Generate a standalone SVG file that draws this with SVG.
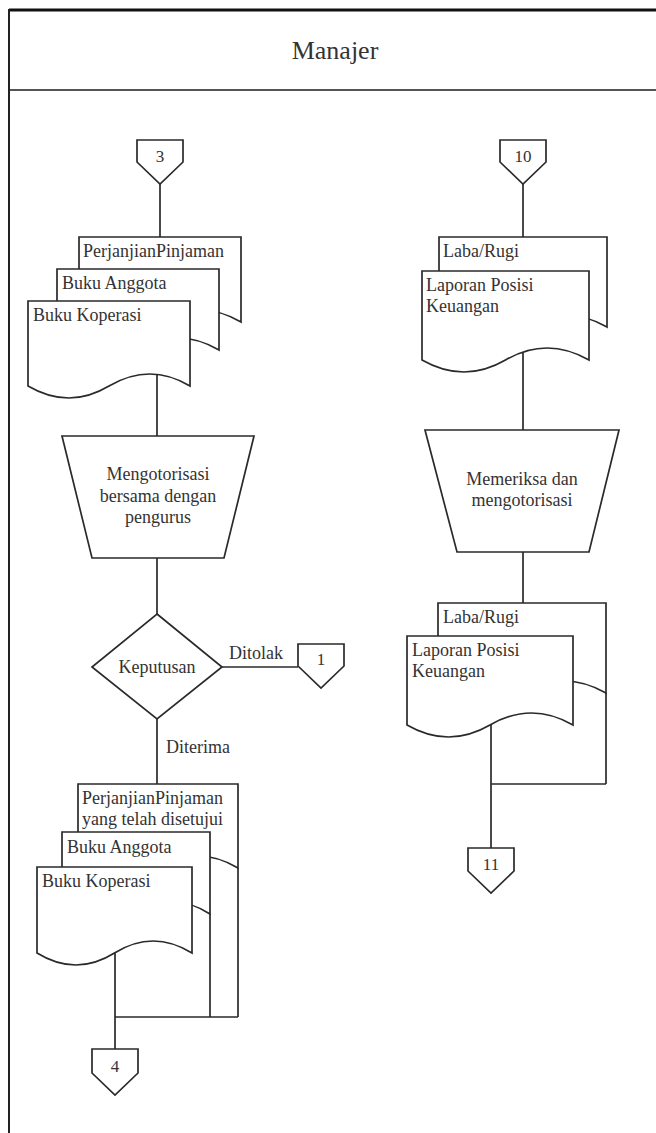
<svg xmlns="http://www.w3.org/2000/svg" width="656" height="1133" viewBox="0 0 656 1133" font-family="'Liberation Serif', 'DejaVu Serif', serif">
<style>
.s{fill:#fff;stroke:#2a2a2a;stroke-width:1.7;stroke-linejoin:miter}
.l{fill:none;stroke:#2a2a2a;stroke-width:1.7}
text{font-family:'Liberation Serif','DejaVu Serif',serif;font-size:18px;fill:#333}
.c{text-anchor:middle}
.n{font-size:17px}
</style>
<rect width="656" height="1133" fill="#fff"/>
<g id="frame">
<line x1="9" y1="10" x2="656" y2="10" stroke="#111" stroke-width="3"/>
<line x1="9" y1="90" x2="656" y2="90" stroke="#555" stroke-width="2"/>
<line x1="9" y1="9" x2="9" y2="1133" stroke="#222" stroke-width="2"/>
<text class="c" x="335" y="59" style="font-size:26px">Manajer</text>
</g>
<g id="connectors">
<line class="l" x1="160" y1="184" x2="160" y2="237"/>
<line class="l" x1="157" y1="374" x2="157" y2="436"/>
<line class="l" x1="157" y1="558" x2="157" y2="614"/>
<line class="l" x1="222" y1="667" x2="298" y2="667"/>
<line class="l" x1="157" y1="719" x2="157" y2="784"/>
<line class="l" x1="238" y1="868" x2="238" y2="1017"/>
<line class="l" x1="210" y1="914" x2="210" y2="1017"/>
<line class="l" x1="115" y1="953" x2="115" y2="1049"/>
<line class="l" x1="115" y1="1017" x2="238" y2="1017"/>
<line class="l" x1="523" y1="184" x2="523" y2="237"/>
<line class="l" x1="523" y1="352" x2="523" y2="430"/>
<line class="l" x1="523" y1="552" x2="523" y2="603"/>
<line class="l" x1="606" y1="693" x2="606" y2="784"/>
<line class="l" x1="491" y1="725" x2="491" y2="848"/>
<line class="l" x1="491" y1="784" x2="606" y2="784"/>
<text x="229" y="659">Ditolak</text>
<text x="166" y="753">Diterima</text>
</g>
<g id="off3">
<path class="s" d="M137,140 H183 V162 L160,184 L137,162 Z"/>
<text class="c n" x="160" y="162">3</text>
</g>
<g id="off10">
<path class="s" d="M500,140 H546 V162 L523,184 L500,162 Z"/>
<text class="c n" x="523" y="162">10</text>
</g>
<g id="docsTopLeft">
<path class="s" d="M79,237 H241 V322 Q200,298 160,322 Q119,346 79,322 Z"/>
<text x="83" y="257">PerjanjianPinjaman</text>
<path class="s" d="M57,269 H219 V350 Q178,326 138,350 Q97,374 57,350 Z"/>
<text x="62" y="289">Buku Anggota</text>
<path class="s" d="M28,301 H190 V386 Q150,362 109,386 Q69,410 28,386 Z"/>
<text x="33" y="321">Buku Koperasi</text>
</g>
<g id="procLeft">
<path class="s" d="M62,436 H254 L224,558 H92 Z"/>
<text class="c" x="158" y="480">Mengotorisasi</text>
<text class="c" x="158" y="502">bersama dengan</text>
<text class="c" x="158" y="523">pengurus</text>
</g>
<g id="decision">
<path class="s" d="M157,614 L222,667 L157,719 L92,667 Z"/>
<text class="c" x="157" y="673">Keputusan</text>
</g>
<g id="off1">
<path class="s" d="M298,644 H344 V666 L321,688 L298,666 Z"/>
<text class="c n" x="321" y="665">1</text>
</g>
<g id="docsBottomLeft">
<path class="s" d="M78,784 H238 V868 Q198,844 158,868 Q118,892 78,868 Z"/>
<text x="82" y="804">PerjanjianPinjaman</text>
<text x="82" y="825">yang telah disetujui</text>
<path class="s" d="M62,832 H210 V914 Q173,890 136,914 Q99,938 62,914 Z"/>
<text x="67" y="853">Buku Anggota</text>
<path class="s" d="M37,867 H192 V953 Q153,929 114.5,953 Q76,977 37,953 Z"/>
<text x="42" y="887">Buku Koperasi</text>
</g>
<g id="off4">
<path class="s" d="M92,1049 H138 V1073 L115,1095 L92,1073 Z"/>
<text class="c n" x="115" y="1072">4</text>
</g>
<g id="docsTopRight">
<path class="s" d="M439,237 H607 V327 Q565,303 523,327 Q481,351 439,327 Z"/>
<text x="443" y="257">Laba/Rugi</text>
<path class="s" d="M422,271 H589 V360 Q547,336 505.5,360 Q464,384 422,360 Z"/>
<text x="426" y="291">Laporan Posisi</text>
<text x="426" y="312">Keuangan</text>
</g>
<g id="procRight">
<path class="s" d="M425,430 H619 L589,552 H457 Z"/>
<text class="c" x="522" y="485">Memeriksa dan</text>
<text class="c" x="522" y="506">mengotorisasi</text>
</g>
<g id="docsBottomRight">
<path class="s" d="M438,603 H606 V693 Q564,669 522,693 Q480,717 438,693 Z"/>
<text x="443" y="623">Laba/Rugi</text>
<path class="s" d="M407,636 H573 V725 Q531.5,701 490,725 Q448.5,749 407,725 Z"/>
<text x="412" y="656">Laporan Posisi</text>
<text x="412" y="677">Keuangan</text>
</g>
<g id="off11">
<path class="s" d="M468,848 H514 V871 L491,893 L468,871 Z"/>
<text class="c n" x="491" y="870">11</text>
</g>
</svg>
